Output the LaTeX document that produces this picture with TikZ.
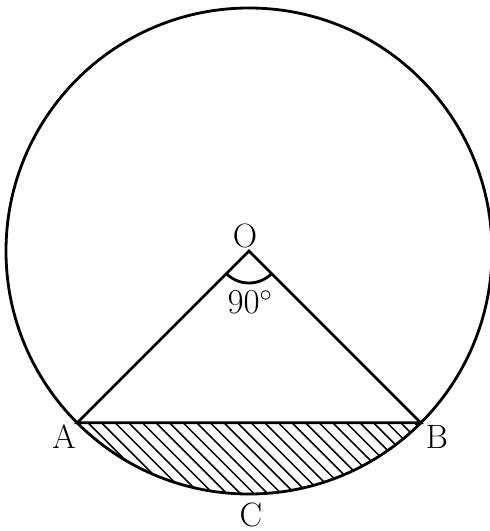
\documentclass[tikz,border=0pt]{standalone}
\usetikzlibrary{calc}
\tikzset{
  every picture/.style={line width=2pt},
  lbl/.style={font=\fontsize{24}{28}\selectfont, inner sep=1pt},
  hatch/.style={line width=1.1pt},
}
\begin{document}
\begin{tikzpicture}[scale=0.025]
  \useasboundingbox (-249,-280) rectangle (241,251);
  % circle and chord
  \coordinate (O) at (0,0);
  \coordinate (A) at (225:243);
  \coordinate (B) at (315:243);
  \draw (O) circle[radius=243];
  % shaded segment
  \begin{scope}
    \clip (A) arc[start angle=225, end angle=315, radius=243] -- cycle;
    \foreach \k in {-210,-196.4,...,170} \draw[hatch] (\k,-150) -- ++(115,-115);
  \end{scope}
  \draw (A) -- (O) -- (B) -- cycle;
  % angle at O
  \draw ([shift={(225:32)}]O) arc[start angle=225, end angle=315, radius=32];
  \node[lbl] (lO) at (-4,15) {O};
  \node[lbl] (l90) at (1,-51) {$90^\circ$};
  \node[lbl] (lA) at (-185,-186) {A};
  \node[lbl] (lB) at (188,-186) {B};
  \node[lbl] (lC) at (2,-264) {C};
\end{tikzpicture}
\end{document}
